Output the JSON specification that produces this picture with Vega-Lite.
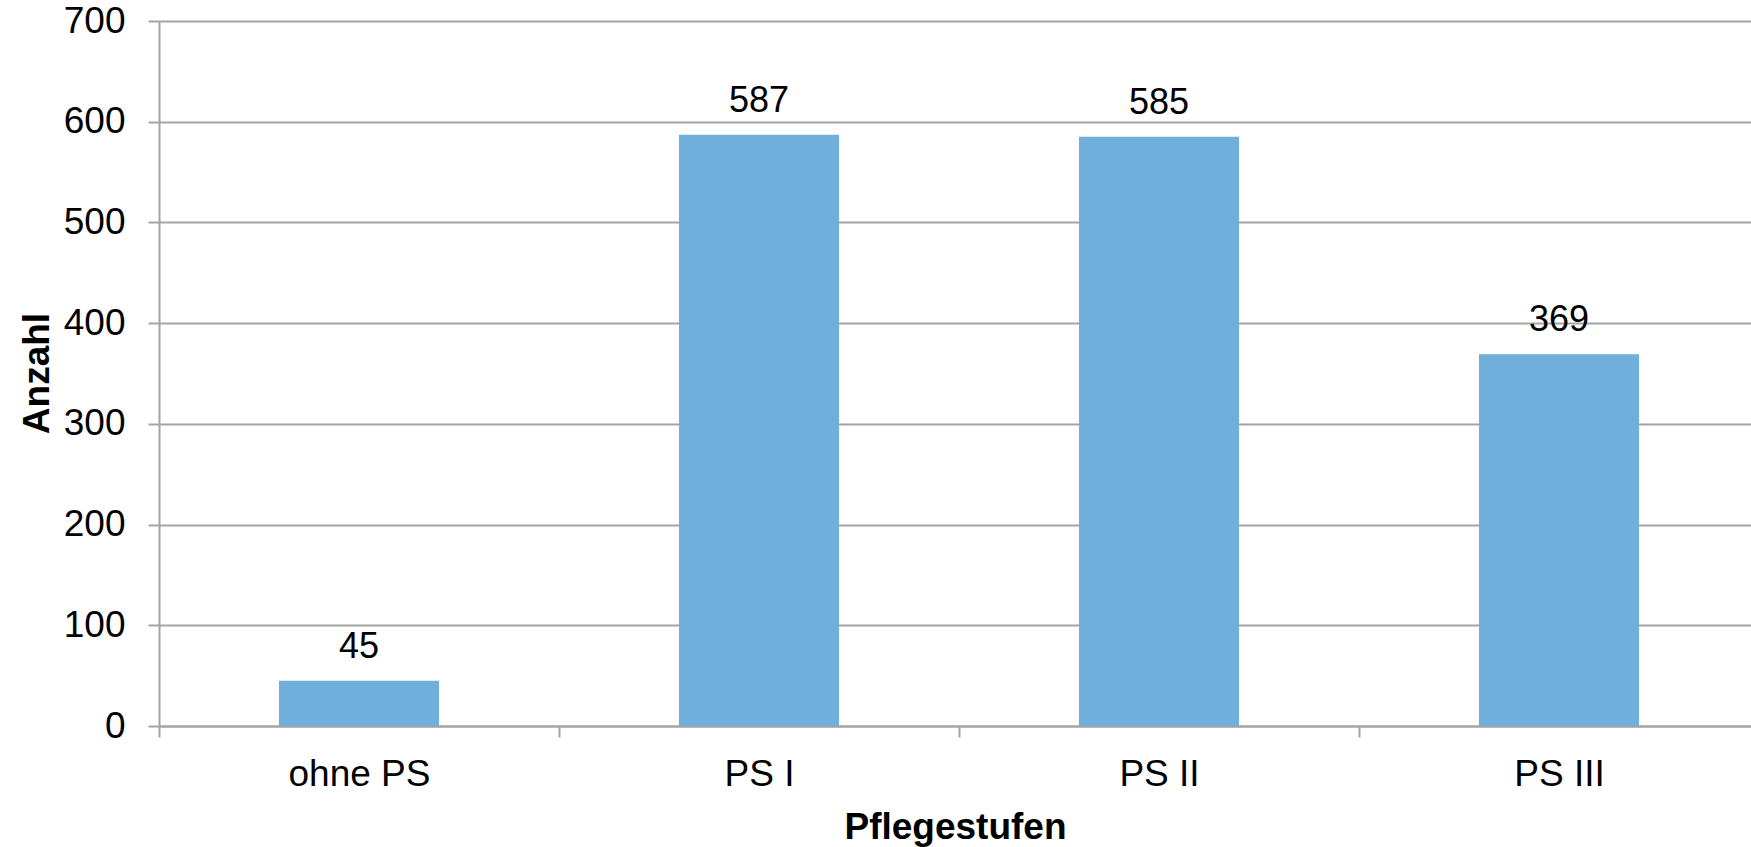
{
  "$schema": "https://vega.github.io/schema/vega-lite/v6.json",
  "autosize": "none",
  "width": 1592,
  "height": 705,
  "padding": {"left": 159, "top": 21, "right": 0, "bottom": 121},
  "background": "white",
  "config": {
    "view": {"stroke": null},
    "font": "Liberation Sans",
    "axis": {"labelFont": "Liberation Sans", "titleFont": "Liberation Sans", "labelColor": "black", "titleColor": "black"}
  },
  "data": {
    "values": [
      {"Pflegestufe": "ohne PS", "Anzahl": 45},
      {"Pflegestufe": "PS I", "Anzahl": 587},
      {"Pflegestufe": "PS II", "Anzahl": 585},
      {"Pflegestufe": "PS III", "Anzahl": 369}
    ]
  },
  "encoding": {
    "x": {
      "field": "Pflegestufe",
      "type": "nominal",
      "sort": null,
      "scale": {"range": [0, 1600], "paddingInner": 0, "paddingOuter": 0},
      "axis": {
        "title": "Pflegestufen",
        "labelAngle": 0,
        "labelFontSize": 37,
        "labelBaseline": "alphabetic",
        "labelPadding": 48,
        "tickSize": 11,
        "tickBand": "extent",
        "tickColor": "#a4a4a4",
        "tickWidth": 2,
        "domainColor": "#a4a4a4",
        "domainWidth": 2,
        "grid": false,
        "titleFontSize": 37,
        "titleFontWeight": "bold",
        "titleBaseline": "alphabetic",
        "titleX": 796,
        "titleY": 112,
        "titleAnchor": "middle"
      }
    },
    "y": {
      "field": "Anzahl",
      "type": "quantitative",
      "scale": {"domain": [0, 700], "nice": false},
      "axis": {
        "title": "Anzahl",
        "values": [0, 100, 200, 300, 400, 500, 600, 700],
        "labelFontSize": 37,
        "labelPadding": 23,
        "tickSize": 11,
        "tickColor": "#a4a4a4",
        "tickWidth": 2,
        "domainColor": "#a4a4a4",
        "domainWidth": 2,
        "grid": true,
        "gridColor": "#a4a4a4",
        "gridWidth": 2,
        "titleFontSize": 37,
        "titleFontWeight": "bold",
        "titleAngle": 270,
        "titleBaseline": "middle",
        "titleX": -122,
        "titleY": 352,
        "titleAnchor": "middle"
      }
    }
  },
  "layer": [
    {"mark": {"type": "bar", "color": "#70aedb", "width": {"band": 0.4}}},
    {
      "mark": {"type": "text", "fontSize": 36, "baseline": "alphabetic", "dy": -23, "color": "black", "font": "Liberation Sans"},
      "encoding": {"text": {"field": "Anzahl", "type": "quantitative"}}
    }
  ]
}
